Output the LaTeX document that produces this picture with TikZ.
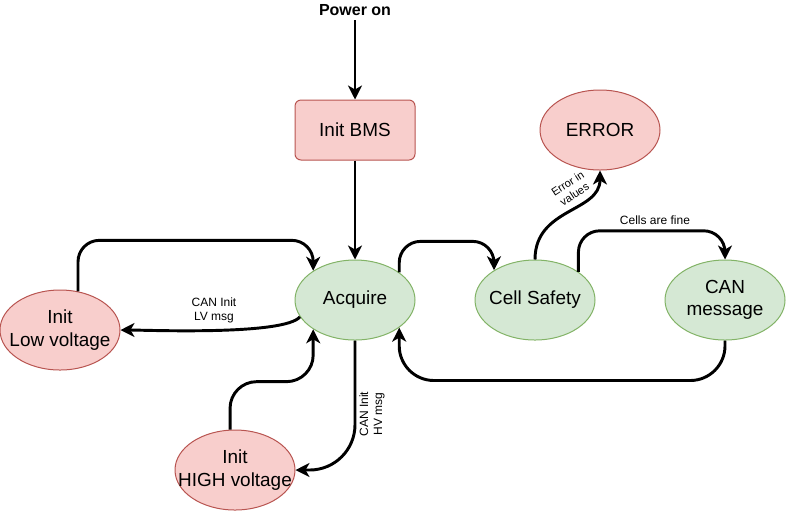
\documentclass[tikz,border=0pt]{standalone}
\usepackage{fontspec}
\setmainfont{Liberation Sans}
\usetikzlibrary{shapes.geometric,arrows.meta}
\definecolor{redfill}{HTML}{F8CECC}
\definecolor{redline}{HTML}{B85450}
\definecolor{greenfill}{HTML}{D5E8D4}
\definecolor{greenline}{HTML}{82B366}

\begin{document}
\begin{tikzpicture}[x=0.75pt,y=0.75pt,
    every node/.style={font=\fontsize{14.2}{17}\selectfont,align=center},
    redstate/.style={ellipse,draw=redline,fill=redfill,line width=0.75pt,
        minimum width=90pt,minimum height=60pt,inner sep=-15pt},
    greenstate/.style={ellipse,draw=greenline,fill=greenfill,line width=0.75pt,
        minimum width=90pt,minimum height=60pt,inner sep=-15pt},
    flow/.style={line width=2.2pt,rounded corners=20pt,
        -{Stealth[length=10.5pt,width=10.5pt,inset=3pt]}},
    lbl/.style={font=\fontsize{9}{10.5}\selectfont}]
    \useasboundingbox (0,0) rectangle (787,-512);

    % States
    \node[font=\bfseries\fontsize{12}{14}\selectfont] (power) at (355,-10) {Power on};
    \node[draw=redline,fill=redfill,rounded corners=4.5pt,line width=0.75pt,
        minimum width=90pt,minimum height=45pt] (bms) at (355,-130) {Init BMS};
    \node[redstate] (err) at (600,-130) {ERROR};
    \node[greenstate] (acq) at (355,-300) {Acquire};
    \node[greenstate] (cs) at (535,-300) {Cell Safety};
    \node[greenstate] (can) at (725,-300) {CAN\\message};
    \node[redstate] (lv) at (60,-330) {Init\\Low voltage};
    \node[redstate] (hv) at (235,-470) {Init\\HIGH voltage};

    % Transitions
    \draw[flow] (power) -- (bms);
    \draw[flow] (bms) -- (acq);
    \draw[flow,rounded corners=16pt] (acq.32) -- ++(0,31) -| (cs.144);
    \draw[flow] (cs.north) .. controls +(0,52) and +(0,-42) .. (err.south);
    \draw[flow,rounded corners=16pt] (cs.33) -- ++(0,41) -| (can.north);
    \draw[flow,rounded corners=26pt] (can.south) -- ++(0,-40) -| (acq.-32);
    \draw[flow] (acq.197) to[out=230,in=0,looseness=0.35] (lv.east);
    \draw[flow,rounded corners=16pt] (lv.65) -- ++(0,51) -| (acq.145);
    \draw[flow] (hv.97) -- ++(0,48) -| (acq.215);
    \draw[flow,rounded corners=34pt] (acq.south) |- (hv.east);

    % Edge labels
    \node[lbl] (lvmsg) at (214,-310) {CAN Init\\LV msg};
    \node[lbl,rotate=90] (hvmsg) at (372,-414) {CAN Init\\HV msg};
    \node[lbl] (fine) at (655,-220) {Cells are fine};
    \node[lbl,rotate=33,font=\fontsize{8.3}{9.5}\selectfont] (errmsg) at (571,-189) {Error in\\values};
\end{tikzpicture}
\end{document}
